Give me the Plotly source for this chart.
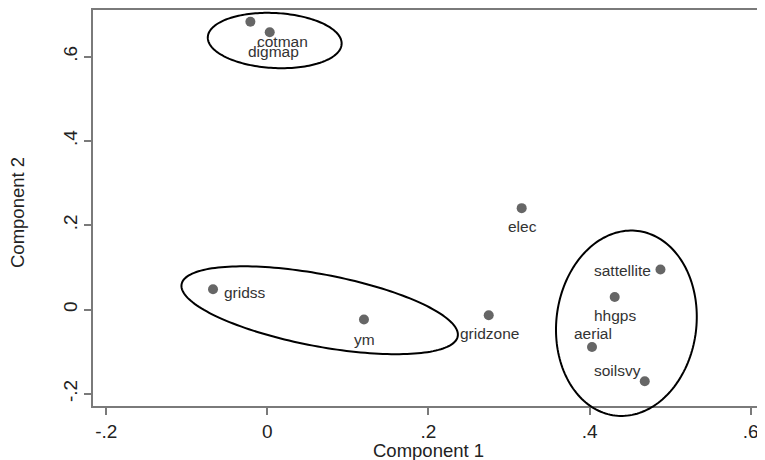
import numpy as np
import plotly.graph_objects as go

# ---- data ----
names = ["digmap", "cotman", "elec", "sattellite", "hhgps", "aerial",
         "soilsvy", "gridss", "ym", "gridzone"]
comp1 = [-0.0211, 0.0029, 0.3157, 0.4880, 0.4312, 0.4030,
         0.4685, -0.0675, 0.1199, 0.2748]
comp2 = [0.6827, 0.6576, 0.2405, 0.0950, 0.0299, -0.0888,
         -0.1702, 0.0482, -0.0237, -0.0135]
x_ticks = [-0.2, 0, 0.2, 0.4, 0.6]
x_ticklabels = ["-.2", "0", ".2", ".4", ".6"]
y_ticks = [-0.2, 0, 0.2, 0.4, 0.6]
y_ticklabels = ["-.2", "0", ".2", ".4", ".6"]
x_title = "Component 1"
y_title = "Component 2"

# ---- layout settings (page has an 8px body margin) ----
OFF = 8
W, H = 765 - OFF, 460 - OFF
# plot box in page pixels: left 93, right 763, top 10, bottom 406
ML, MR, MT, MB = 93 - OFF, 765 - 763, 10 - OFF, 460 - 406
XR = [-0.2165, 0.6153]
YR = [-0.2288, 0.7105]
pw, ph = W - ML - MR, H - MT - MB
sx = pw / (XR[1] - XR[0])   # px per unit
sy = ph / (YR[1] - YR[0])
FONT = "Liberation Sans, Arial"

# label offsets in px (dx right, dy down) and anchor
label_style = {
    "digmap": (23, 30, "center"),
    "cotman": (13, 9, "center"),
    "elec": (1, 18, "center"),
    "sattellite": (-7, 1, "right"),
    "hhgps": (0, 19, "center"),
    "aerial": (1, -13, "center"),
    "soilsvy": (-27, -11, "center"),
    "gridss": (9, 3, "left"),
    "ym": (1, 20, "center"),
    "gridzone": (1, 18, "center"),
}

fig = go.Figure()
fig.add_trace(go.Scatter(
    x=comp1, y=comp2, mode="markers",
    marker=dict(size=10, color="#666666"),
    hoverinfo="skip", showlegend=False, cliponaxis=False))

for n, xv, yv in zip(names, comp1, comp2):
    dx, dy, anc = label_style[n]
    fig.add_annotation(x=xv, y=yv, xref="x", yref="y", text=n,
                       showarrow=False, xshift=dx, yshift=-dy,
                       xanchor=anc, yanchor="middle",
                       font=dict(family=FONT, size=15.5, color="#333333"))

# ellipses: centre (data), semi axes (px), angle (deg)
ellipses = [
    (0.0091, 0.6381, 67, 27.5, -3),
    (0.0649, -0.0017, 140.5, 36, -10.7),
    (0.4457, -0.0325, 93, 70, 83),
]
t = np.linspace(0, 2 * np.pi, 181)
for cx, cy, a, b, ang in ellipses:
    th = np.deg2rad(ang)
    ex = a * np.cos(t) * np.cos(th) - b * np.sin(t) * np.sin(th)
    ey = a * np.cos(t) * np.sin(th) + b * np.sin(t) * np.cos(th)
    xd = cx + ex / sx
    yd = cy + ey / sy
    xp = (xd - XR[0]) / (XR[1] - XR[0])
    yp = (yd - YR[0]) / (YR[1] - YR[0])
    path = "M " + " L ".join(f"{u:.5f},{v:.5f}" for u, v in zip(xp, yp)) + " Z"
    fig.add_shape(type="path", path=path, xref="paper", yref="paper",
                  line=dict(color="black", width=2), layer="above")

# axis titles as annotations (page pixel targets converted to paper)
def px_to_paper(px, py):
    return (px - OFF - ML) / pw, ((H - MB) - (py - OFF)) / ph

tx, ty = px_to_paper(428, 451)
fig.add_annotation(text=x_title, xref="paper", yref="paper", x=tx, y=ty,
                   showarrow=False, xanchor="center", yanchor="middle",
                   font=dict(family=FONT, size=18.5, color="#222222"))
tx, ty = px_to_paper(17, 213)
fig.add_annotation(text=y_title, xref="paper", yref="paper", x=tx, y=ty,
                   showarrow=False, xanchor="center", yanchor="middle",
                   textangle=-90,
                   font=dict(family=FONT, size=18.5, color="#222222"))

axis_common = dict(showgrid=False, zeroline=False, showline=True, mirror=True,
                   linecolor="#7a7a7a", linewidth=1.5, ticks="outside",
                   ticklen=7, tickcolor="#7a7a7a", tickwidth=1.5,
                   automargin=False,
                   tickfont=dict(family=FONT, size=19, color="#222222"))
fig.update_xaxes(range=XR, tickvals=x_ticks, ticktext=x_ticklabels,
                 **axis_common)
fig.update_yaxes(range=YR, tickvals=y_ticks, ticktext=y_ticklabels,
                 tickangle=-90, **axis_common)
fig.update_layout(width=W, height=H, margin=dict(l=ML, r=MR, t=MT, b=MB),
                  plot_bgcolor="white", paper_bgcolor="white")
fig.write_html("out.html")
